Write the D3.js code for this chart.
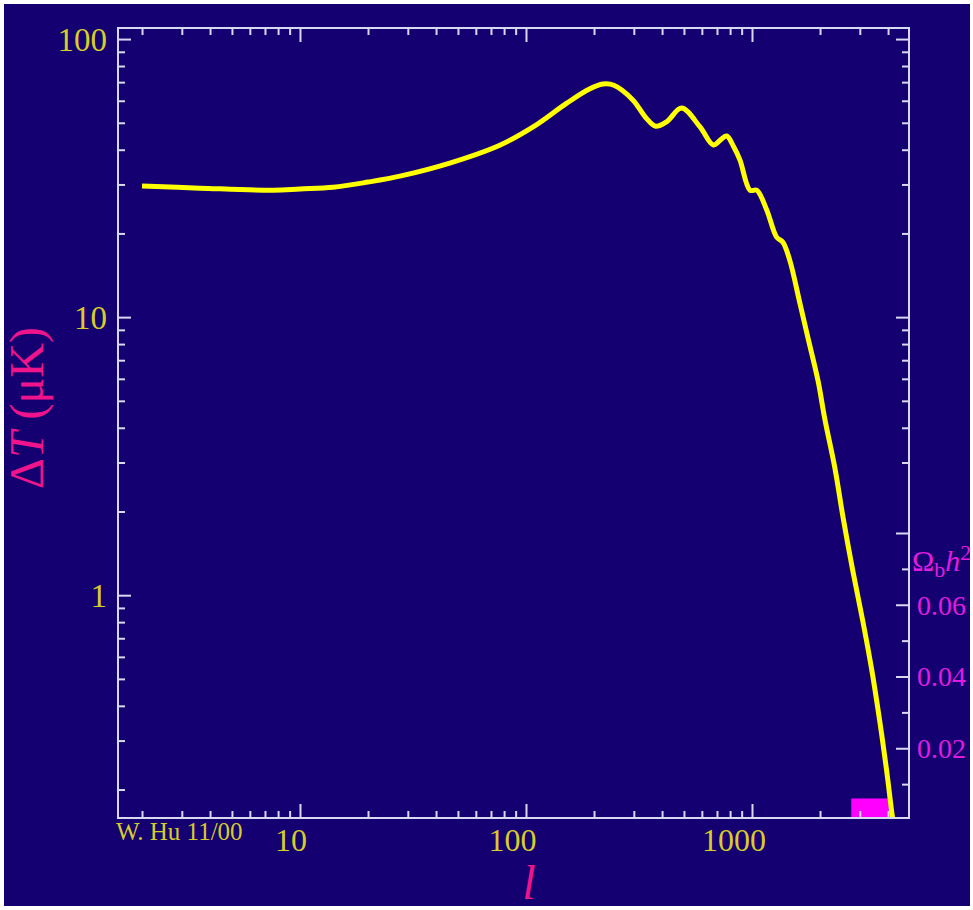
<!DOCTYPE html>
<html>
<head>
<meta charset="utf-8">
<title>Delta T vs l</title>
<script src="https://cdn.jsdelivr.net/npm/d3@7"></script>
<style>
  body { margin: 0; background: #fff; }
  svg { display: block; }
  text { font-family: "Liberation Serif", "DejaVu Serif", serif; }
  .tick line { stroke: #d8d8f0; stroke-width: 2; }
  .domain { display: none; }
</style>
</head>
<body>
<svg id="chart"></svg>
<script>
// multipole l and temperature anisotropy in muK
const ell    = [2, 3.6, 7.6, 10, 14, 20, 28, 46, 77, 108, 151, 190, 219, 245, 297, 340, 375, 420, 488, 589, 674, 730, 773, 830, 885, 980, 1049, 1162, 1285, 1370, 1470, 1630, 1770, 1960, 2100, 2330, 2530, 2790, 3090, 3390, 3670, 3940, 4140, 4220];
const deltaT = [29.6, 29.1, 28.6, 28.9, 29.3, 30.6, 32.2, 35.8, 41.6, 48.4, 58.7, 66.0, 68.9, 68.2, 60.4, 52.0, 48.6, 50.5, 56.5, 48.3, 41.6, 43.6, 44.8, 41.0, 36.7, 28.6, 28.6, 24.3, 19.4, 18.6, 16.0, 11.2, 8.4, 5.9, 4.3, 2.85, 1.9, 1.23, 0.81, 0.537, 0.355, 0.235, 0.169, 0.152];

const xTickLabels = [10, 100, 1000];
const yTickLabels = [1, 10, 100];
const omegaTicks  = [0.01, 0.02, 0.03, 0.04, 0.05, 0.06, 0.07, 0.08];
const omegaLabels = [0.02, 0.04, 0.06];
const omegaB = 0.006;          // current baryon density, shown as the bar
const barEll = [2750, 4150];   // l range covered by the bar

const W = 973, H = 910;
const L = 118, T = 28, R = 909, B = 818;
const yellow = "#d8cc2c", pink = "#f0148c", magenta = "#e01ce0";

let svg = d3.select("#chart").attr("width", W).attr("height", H);

svg.append("rect").attr("x", 4).attr("y", 4)
    .attr("width", W - 7).attr("height", H - 8)
    .attr("fill", "#140070");

let x = d3.scaleLog().domain([1.566, 4951]).range([L, R]);
let y = d3.scaleLog().domain([0.158, 109.6]).range([B, T]);
let om = d3.scaleLinear().domain([0, 0.08]).range([820, 533]);

svg.append("clipPath").attr("id", "frame")
    .append("rect").attr("x", L).attr("y", T).attr("width", R - L).attr("height", B - T);

// bar for Omega_b h^2
svg.append("rect")
    .attr("x", x(barEll[0]))
    .attr("y", om(omegaB))
    .attr("width", x(barEll[1]) - x(barEll[0]))
    .attr("height", B - om(omegaB))
    .attr("fill", "#ff00ff");

// the curve
let line = d3.line()
    .x((d, i) => x(ell[i]))
    .y(d => y(d))
    .curve(d3.curveCatmullRom.alpha(0.5));

svg.append("path")
    .datum(deltaT)
    .attr("clip-path", "url(#frame)")
    .attr("d", line)
    .attr("fill", "none")
    .attr("stroke", "#ffff00")
    .attr("stroke-width", 5)
    .attr("stroke-linejoin", "round");

// ticks, pointing inward
let isMajor = v => Math.abs(Math.log10(v) - Math.round(Math.log10(v))) < 1e-6;
let xt = x.ticks(), yt = y.ticks();
let xMinor = xt.filter(v => !isMajor(v)), xMajor = xt.filter(isMajor);
let yMinor = yt.filter(v => !isMajor(v)), yMajor = yt.filter(isMajor);

function ticks(axis, vals, size, tx, ty) {
    svg.append("g")
        .attr("transform", `translate(${tx},${ty})`)
        .call(axis.tickValues(vals).tickSize(-size).tickFormat(""));
}
ticks(d3.axisBottom(x), xMinor, 7, 0, B);
ticks(d3.axisBottom(x), xMajor, 14, 0, B);
ticks(d3.axisTop(x), xMinor, 7, 0, T);
ticks(d3.axisTop(x), xMajor, 14, 0, T);
ticks(d3.axisLeft(y), yMinor, 7, L, 0);
ticks(d3.axisLeft(y), yMajor, 13, L, 0);
ticks(d3.axisRight(y), yMinor.filter(v => v >= 3), 7, R, 0);
ticks(d3.axisRight(y), yMajor.filter(v => v >= 3), 13, R, 0);
ticks(d3.axisRight(om), omegaTicks.filter(v => omegaLabels.indexOf(v) < 0 && v !== 0.08), 7, R, 0);
ticks(d3.axisRight(om), omegaLabels.concat([0.08]), 13, R, 0);

// frame
svg.append("rect")
    .attr("x", L).attr("y", T).attr("width", R - L).attr("height", B - T)
    .attr("fill", "none").attr("stroke", "#d8d8f0").attr("stroke-width", 2);

// tick labels
svg.selectAll(".xlab").data(xTickLabels).enter()
    .append("text").attr("class", "xlab")
    .attr("x", d => x(d) - String(d).length * 4.5)
    .attr("y", 851)
    .attr("text-anchor", "middle")
    .attr("font-size", 32).attr("fill", yellow)
    .text(d => d);

svg.selectAll(".ylab").data(yTickLabels).enter()
    .append("text").attr("class", "ylab")
    .attr("x", 107)
    .attr("y", d => y(d))
    .attr("dy", "0.35em")
    .attr("text-anchor", "end")
    .attr("font-size", 33).attr("fill", yellow)
    .text(d => d);

svg.selectAll(".olab").data(omegaLabels).enter()
    .append("text").attr("class", "olab")
    .attr("x", R + 8)
    .attr("y", d => om(d))
    .attr("dy", "0.35em")
    .attr("font-size", 28).attr("fill", magenta)
    .text(d => d.toFixed(2));

// Omega_b h^2 title
let ot = svg.append("text")
    .attr("x", R + 3).attr("y", 571)
    .attr("font-size", 30).attr("fill", magenta);
ot.append("tspan").text("\u03A9");
ot.append("tspan").attr("dy", 6).attr("font-size", 22).text("b");
ot.append("tspan").attr("dy", -6).attr("font-style", "italic").text("h");
ot.append("tspan").attr("dy", -11).attr("font-size", 22).text("2");

// axis titles
let yt2 = svg.append("text")
    .attr("transform", "translate(43,408) rotate(-90)")
    .attr("text-anchor", "middle")
    .attr("font-size", 48).attr("fill", pink);
yt2.append("tspan").text("\u0394");
yt2.append("tspan").attr("font-style", "italic").text("T");
yt2.append("tspan").text(" (\u03BCK)");

svg.append("text")
    .attr("x", 529).attr("y", 899)
    .attr("text-anchor", "middle")
    .attr("font-size", 48).attr("font-style", "italic").attr("fill", pink)
    .text("l");

svg.append("text")
    .attr("x", 116).attr("y", 840)
    .attr("font-size", 25).attr("fill", yellow)
    .text("W. Hu 11/00");
</script>
</body>
</html>
